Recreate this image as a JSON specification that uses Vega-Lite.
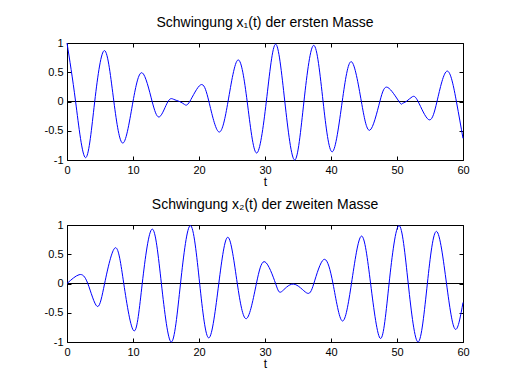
{
  "$schema": "https://vega.github.io/schema/vega-lite/v6.json",
  "padding": {"left": 43, "top": 15, "right": 5, "bottom": 5},
  "bounds": "flush",
  "spacing": 65,
  "background": "white",
  "config": {
    "font": "Liberation Sans",
    "view": {"stroke": "black", "strokeWidth": 1},
    "axis": {
      "grid": false,
      "domain": false,
      "tickColor": "black",
      "tickSize": -4,
      "labelPadding": 8,
      "labelFont": "Liberation Sans",
      "labelFontSize": 11,
      "labelColor": "black",
      "labelExpr": "'' + datum.value",
      "titleFont": "Liberation Sans",
      "titleFontSize": 12,
      "titleFontWeight": "normal",
      "titleColor": "black",
      "titlePadding": 1,
      "labelFlush": false,
      "labelOverlap": false
    },
    "title": {
      "font": "Liberation Sans",
      "fontSize": 14,
      "fontWeight": "normal",
      "color": "black",
      "baseline": "alphabetic",
      "offset": 7
    }
  },
  "vconcat": [
    {
      "width": 396,
      "height": 117,
      "title": "Schwingung x₁(t) der ersten Masse",
      "layer": [
        {
          "data": {"values": [{"t": 0, "v": 0}, {"t": 60, "v": 0}]},
          "mark": {"type": "line", "color": "black", "strokeWidth": 1},
          "encoding": {
            "x": {"field": "t", "type": "quantitative", "scale": {"domain": [0, 60], "nice": false}, "axis": {"orient": "top", "labels": false, "title": null, "values": [0, 10, 20, 30, 40, 50, 60]}},
            "y": {"field": "v", "type": "quantitative", "scale": {"domain": [-1, 1], "nice": false}, "axis": {"orient": "right", "labels": false, "title": null, "values": [-1, -0.5, 0, 0.5, 1]}}
          }
        },
        {
          "data": {"values": [
            {"t": 0, "v": 1}, {"t": 1.3, "v": 0}, {"t": 2.8, "v": -0.96}, {"t": 4.2, "v": 0}, {"t": 5.7, "v": 0.87},
            {"t": 7.1, "v": 0}, {"t": 8.5, "v": -0.71}, {"t": 10.0, "v": 0}, {"t": 11.4, "v": 0.49}, {"t": 12.9, "v": 0},
            {"t": 14.05, "v": -0.26}, {"t": 15.3, "v": 0}, {"t": 16.2, "v": 0.035}, {"t": 17.05, "v": 0}, {"t": 17.8, "v": -0.05},
            {"t": 18.6, "v": 0}, {"t": 20.25, "v": 0.285}, {"t": 21.5, "v": 0}, {"t": 23.0, "v": -0.52}, {"t": 24.4, "v": 0},
            {"t": 25.9, "v": 0.71}, {"t": 27.3, "v": 0}, {"t": 28.7, "v": -0.88}, {"t": 30.2, "v": 0}, {"t": 31.6, "v": 0.98},
            {"t": 33.0, "v": 0}, {"t": 34.5, "v": -1.0}, {"t": 35.9, "v": 0}, {"t": 37.4, "v": 0.96}, {"t": 38.8, "v": 0},
            {"t": 40.2, "v": -0.86}, {"t": 41.7, "v": 0}, {"t": 43.1, "v": 0.68}, {"t": 44.6, "v": 0}, {"t": 45.9, "v": -0.49},
            {"t": 47.4, "v": 0}, {"t": 48.6, "v": 0.24}, {"t": 50.3, "v": 0}, {"t": 50.8, "v": -0.035}, {"t": 51.4, "v": 0},
            {"t": 52.3, "v": 0.08}, {"t": 53.2, "v": 0}, {"t": 54.8, "v": -0.31}, {"t": 56.06, "v": 0}, {"t": 57.6, "v": 0.52},
            {"t": 59.0, "v": 0}, {"t": 60, "v": -0.63}
          ]},
          "mark": {"type": "line", "color": "#0000ff", "strokeWidth": 1, "interpolate": "natural"},
          "encoding": {
            "x": {"field": "t", "type": "quantitative", "scale": {"domain": [0, 60], "nice": false}, "axis": {"orient": "bottom", "title": "t", "values": [0, 10, 20, 30, 40, 50, 60]}},
            "y": {"field": "v", "type": "quantitative", "scale": {"domain": [-1, 1], "nice": false}, "axis": {"orient": "left", "title": null, "values": [-1, -0.5, 0, 0.5, 1]}}
          }
        }
      ],
      "resolve": {"axis": {"x": "independent", "y": "independent"}}
    },
    {
      "width": 396,
      "height": 117,
      "title": "Schwingung x₂(t) der zweiten Masse",
      "layer": [
        {
          "data": {"values": [{"t": 0, "v": 0}, {"t": 60, "v": 0}]},
          "mark": {"type": "line", "color": "black", "strokeWidth": 1},
          "encoding": {
            "x": {"field": "t", "type": "quantitative", "scale": {"domain": [0, 60], "nice": false}, "axis": {"orient": "top", "labels": false, "title": null, "values": [0, 10, 20, 30, 40, 50, 60]}},
            "y": {"field": "v", "type": "quantitative", "scale": {"domain": [-1, 1], "nice": false}, "axis": {"orient": "right", "labels": false, "title": null, "values": [-1, -0.5, 0, 0.5, 1]}}
          }
        },
        {
          "data": {"values": [
            {"t": 0, "v": 0}, {"t": 1.83, "v": 0.15}, {"t": 3.15, "v": 0}, {"t": 4.55, "v": -0.39}, {"t": 5.7, "v": 0},
            {"t": 7.3, "v": 0.61}, {"t": 8.6, "v": 0}, {"t": 10.15, "v": -0.81}, {"t": 11.4, "v": 0}, {"t": 12.9, "v": 0.93},
            {"t": 14.3, "v": 0}, {"t": 15.8, "v": -1.0}, {"t": 17.2, "v": 0}, {"t": 18.7, "v": 0.99}, {"t": 20.1, "v": 0},
            {"t": 21.5, "v": -0.93}, {"t": 23.0, "v": 0}, {"t": 24.4, "v": 0.79}, {"t": 25.8, "v": 0}, {"t": 27.2, "v": -0.6},
            {"t": 28.7, "v": 0}, {"t": 30.0, "v": 0.37}, {"t": 31.6, "v": 0}, {"t": 32.5, "v": -0.14}, {"t": 34.3, "v": -0.01},
            {"t": 36.3, "v": -0.16}, {"t": 37.4, "v": 0}, {"t": 38.9, "v": 0.41}, {"t": 40.3, "v": 0}, {"t": 41.7, "v": -0.64},
            {"t": 43.1, "v": 0}, {"t": 44.6, "v": 0.81}, {"t": 46.0, "v": 0}, {"t": 47.5, "v": -0.94}, {"t": 48.8, "v": 0},
            {"t": 50.3, "v": 0.99}, {"t": 51.7, "v": 0}, {"t": 53.2, "v": -1.0}, {"t": 54.6, "v": 0}, {"t": 56.0, "v": 0.89},
            {"t": 57.5, "v": 0}, {"t": 58.8, "v": -0.78}, {"t": 60, "v": -0.325}
          ]},
          "mark": {"type": "line", "color": "#0000ff", "strokeWidth": 1, "interpolate": "natural"},
          "encoding": {
            "x": {"field": "t", "type": "quantitative", "scale": {"domain": [0, 60], "nice": false}, "axis": {"orient": "bottom", "title": "t", "values": [0, 10, 20, 30, 40, 50, 60]}},
            "y": {"field": "v", "type": "quantitative", "scale": {"domain": [-1, 1], "nice": false}, "axis": {"orient": "left", "title": null, "values": [-1, -0.5, 0, 0.5, 1]}}
          }
        }
      ],
      "resolve": {"axis": {"x": "independent", "y": "independent"}}
    }
  ]
}
